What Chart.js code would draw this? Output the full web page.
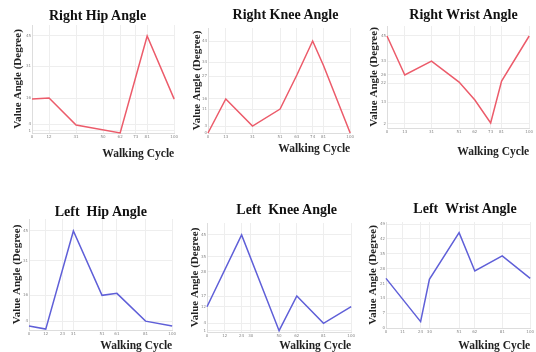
<!DOCTYPE html>
<html>
<head>
<meta charset="utf-8">
<script src="https://cdn.jsdelivr.net/npm/chart.js@4/dist/chart.umd.min.js"></script>
<style>
  body { margin: 0; background: #fff; }
  #wrap { position: relative; width: 536px; height: 352px; overflow: hidden; }
  canvas { position: absolute; }
  .ttl {
    position: absolute; width: 220px; text-align: center; white-space: pre;
    font: bold 14px "Liberation Serif", "DejaVu Serif", serif; line-height: 16px; color: #111;
  }
</style>
</head>
<body>
<div id="wrap"></div>
<script>
// walking cycle positions (%) and angle values
const rightHipX = [0, 12, 31, 62, 81, 100];
const rightHipY = [15.7, 16.2, 3.7, 0, 44.9, 15.7];
const rightHipXTicks = [0, 12, 31, 50, 62, 73, 81, 100];
const rightHipYTicks = [1, 4, 16, 31, 45];

const rightKneeX = [0, 12.5, 31.3, 50.7, 62.5, 73.6, 81.3, 100];
const rightKneeY = [0, 16.2, 3.3, 11.4, 27.6, 43.8, 32, 0];
const rightKneeXTicks = [0, 12.5, 31.3, 50.7, 62.5, 73.6, 81.3, 100];
const rightKneeYTicks = [0, 3.3, 11.4, 16.2, 27.1, 33.8, 43.8];

const rightWristX = [0, 12.5, 31.3, 50.7, 61.8, 72.9, 80.6, 100];
const rightWristY = [45.1, 26.0, 32.8, 22.5, 13.7, 2.5, 23.0, 45.1];
const rightWristXTicks = [0, 12.5, 31.3, 50.7, 61.8, 72.9, 80.6, 100];
const rightWristYTicks = [2, 12.7, 22, 26, 32.8, 45.1];

const leftHipX = [0, 11.7, 31.0, 51.0, 61.4, 81.4, 100];
const leftHipY = [1.8, 0.4, 44.6, 15.6, 16.5, 4.0, 1.8];
const leftHipXTicks = [0, 11.7, 23.4, 31, 51, 61.4, 81.4, 100];
const leftHipYTicks = [4, 15.6, 31.3, 44.6];

const leftKneeX = [0, 24.0, 50.0, 62.3, 80.8, 100];
const leftKneeY = [11.6, 44.5, 0.6, 16.5, 4.0, 11.6];
const leftKneeXTicks = [0, 12.3, 24, 30.4, 50, 62.3, 80.8, 100];
const leftKneeYTicks = [0.6, 4, 11.6, 16.5, 27.7, 34.5, 44.5];

const leftWristX = [0, 24.0, 30.1, 50.7, 61.6, 80.6, 100];
const leftWristY = [23.4, 3.0, 23.0, 45.0, 26.9, 34.0, 23.4];
const leftWristXTicks = [0, 11.4, 24, 30.1, 50.7, 61.6, 80.6, 100];
const leftWristYTicks = [0, 7, 14, 21, 28, 35, 42, 49];

const titles = ["Right Hip Angle", "Right Knee Angle", "Right Wrist Angle",
  "Left  Hip Angle", "Left  Knee Angle", "Left  Wrist Angle"];
const yTitle = "Value Angle (Degree)";
const xTitle = "Walking Cycle";

const red = "#ec5b6a";
const blue = "#5f5fd8";

const panels = [
  { x: rightHipX, y: rightHipY, xt: rightHipXTicks, yt: rightHipYTicks, color: red,
    plot: [32, 25, 176, 133], tx: 97.5, ty: 16, yx: 18.3, xy: 153 },
  { x: rightKneeX, y: rightKneeY, xt: rightKneeXTicks, yt: rightKneeYTicks, color: red,
    plot: [208, 28, 352, 133], tx: 285.5, ty: 15, yx: 196.7, xy: 148 },
  { x: rightWristX, y: rightWristY, xt: rightWristXTicks, yt: rightWristYTicks, color: red,
    plot: [387, 26, 531, 128], tx: 463.5, ty: 15, yx: 374.3, xy: 150.7 },
  { x: leftHipX, y: leftHipY, xt: leftHipXTicks, yt: leftHipYTicks, color: blue,
    plot: [29, 219, 174, 330], tx: 100.8, ty: 212, yx: 16.7, xy: 345 },
  { x: leftKneeX, y: leftKneeY, xt: leftKneeXTicks, yt: leftKneeYTicks, color: blue,
    plot: [207, 223, 353, 332], tx: 286.7, ty: 210, yx: 195, xy: 345 },
  { x: leftWristX, y: leftWristY, xt: leftWristXTicks, yt: leftWristYTicks, color: blue,
    plot: [386, 222, 532, 328], tx: 465, ty: 209, yx: 372.7, xy: 345 },
];

const wrap = document.getElementById("wrap");
const tickFont = { size: 4, family: "DejaVu Sans" };

panels.forEach((p, i) => {
  const [l, t, r, b] = p.plot;
  const cl = Math.floor(p.yx - 8);
  const ct = t - 4;
  const cr = Math.min(536, r + 4);
  const cb = Math.ceil(p.xy + 8);

  const canvas = document.createElement("canvas");
  canvas.width = cr - cl;
  canvas.height = cb - ct;
  canvas.style.left = cl + "px";
  canvas.style.top = ct + "px";
  wrap.appendChild(canvas);

  const head = document.createElement("div");
  head.className = "ttl";
  head.textContent = titles[i];
  head.style.left = (p.tx - 110) + "px";
  head.style.top = (p.ty - 8) + "px";
  wrap.appendChild(head);

  new Chart(canvas, {
    type: "line",
    data: {
      datasets: [{
        data: p.x.map((v, k) => ({ x: v, y: p.y[k] })),
        borderColor: p.color,
        borderWidth: 1.5,
        pointRadius: 0,
        tension: 0,
        clip: false,
      }],
    },
    options: {
      responsive: false,
      animation: false,
      layout: { padding: { top: 4, right: cr - r, left: 0, bottom: 0 } },
      plugins: { legend: { display: false }, tooltip: { enabled: false } },
      scales: {
        x: {
          type: "linear", min: 0, max: 100,
          afterBuildTicks: (ax) => { ax.ticks = p.xt.map((v) => ({ value: v })); },
          afterFit: (ax) => { ax.height = cb - b; },
          grid: { color: "#eeeeee", drawTicks: false },
          border: { color: "#dddddd" },
          ticks: { font: tickFont, color: "#888", padding: 2, maxRotation: 0, autoSkip: false,
            callback: (v) => Math.round(v) },
          title: { display: true, text: xTitle, align: "end", color: "#222",
            padding: { top: 0, bottom: 0.1 },
            font: { size: 11.5, weight: "bold", family: "Liberation Serif" } },
        },
        y: {
          type: "linear", min: 0, max: 50,
          afterBuildTicks: (ax) => { ax.ticks = p.yt.map((v) => ({ value: v })); },
          afterFit: (ax) => { ax.width = l - cl; },
          grid: { color: "#eeeeee", drawTicks: false },
          border: { color: "#dddddd" },
          ticks: { font: tickFont, color: "#888", padding: 1, autoSkip: false,
            callback: (v) => Math.round(v) },
          title: { display: true, text: yTitle, color: "#222",
            padding: { top: p.yx - cl - 6.6, bottom: 0 },
            font: { size: 11, weight: "bold", family: "Liberation Serif" } },
        },
      },
    },
  });
});
</script>
</body>
</html>
